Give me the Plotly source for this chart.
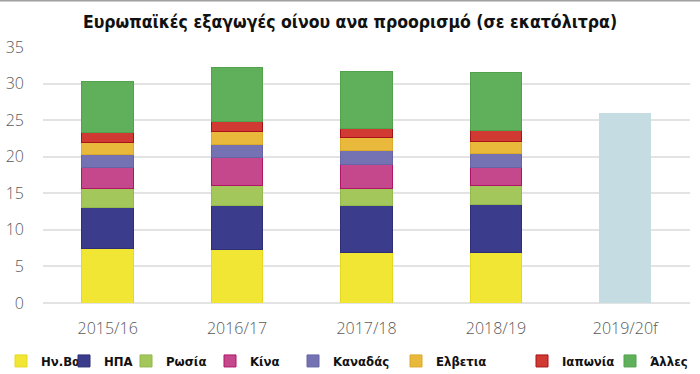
import plotly.graph_objects as go

years = ["2015/16", "2016/17", "2017/18", "2018/19", "2019/20f"]
uk = [7.4, 7.3, 6.9, 6.9, None]
usa = [5.7, 6.0, 6.4, 6.5, None]
russia = [2.5, 2.7, 2.3, 2.6, None]
china = [2.9, 3.9, 3.3, 2.5, None]
canada = [1.8, 1.8, 2.0, 2.0, None]
switzerland = [1.7, 1.8, 1.7, 1.6, None]
japan = [1.3, 1.3, 1.3, 1.5, None]
others = [7.0, 7.4, 7.8, 7.9, None]
forecast = [None, None, None, None, 26.0]

series = [
    ("Ην.Βασ", uk, "#f1e633", "#e6d820"),
    ("ΗΠΑ", usa, "#3b3c8b", "#2e2f75"),
    ("Ρωσία", russia, "#a3c75b", "#93b84b"),
    ("Κίνα", china, "#c4488b", "#b01568"),
    ("Καναδάς", canada, "#7572b3", "#6664a4"),
    ("Ελβετια", switzerland, "#e9b93b", "#dcaa2b"),
    ("Ιαπωνία", japan, "#d13a33", "#a8121a"),
    ("Άλλες", others, "#60b05b", "#52a24d"),
]

# legend square left positions in px
legend_px = [17, 80, 142, 226, 309, 412, 538, 626]
plot_left = 43
plot_w = 647
plot_bottom = 303
plot_h = 256

fig = go.Figure()
for i, (name, vals, col, lcol) in enumerate(series):
    lg = "legend" if i == 0 else f"legend{i+1}"
    fig.add_trace(go.Bar(
        x=years, y=vals, name=name, marker=dict(color=col, line=dict(color=lcol, width=1)),
        legend=lg,
    ))
fig.add_trace(go.Bar(x=years, y=forecast, name="2019/20f", showlegend=False,
                     marker=dict(color="#c5dde2", line=dict(width=0))))

legend_font = dict(family="DejaVu Sans Condensed", size=13, color="#111111", weight="bold")
layout_legends = {}
for i, px in enumerate(legend_px):
    key = "legend" if i == 0 else f"legend{i+1}"
    layout_legends[key] = dict(
        x=(px - 16 - plot_left) / plot_w, xanchor="left",
        y=(plot_bottom - 361) / plot_h, yanchor="middle",
        orientation="h", font=legend_font, bgcolor="rgba(0,0,0,0)",
        itemwidth=30, tracegroupgap=0,
    )

fig.update_layout(
    width=700, height=374,
    margin=dict(l=43, r=10, t=47, b=71, autoexpand=False),
    barmode="stack", bargap=0.6,
    plot_bgcolor="white", paper_bgcolor="white",
    title=dict(text="Ευρωπαϊκές εξαγωγές οίνου ανα προορισμό (σε εκατόλιτρα)",
               x=0.5, xanchor="center", y=1 - 22 / 374, yanchor="middle",
               font=dict(family="DejaVu Sans Condensed", size=17.5, color="#111111", weight="bold")),
    xaxis=dict(showgrid=False, showline=False, ticks="", automargin=False,
               tickfont=dict(family="Open Sans", size=16, color="#595959", weight=300),
               ticklabelstandoff=14),
    yaxis=dict(range=[0, 35], dtick=5, showgrid=True, gridcolor="#e3e3e3", gridwidth=1.5,
               zeroline=True, zerolinecolor="#e3e3e3", zerolinewidth=1.5, showline=False,
               automargin=False,
               tickfont=dict(family="Open Sans", size=16, color="#595959", weight=300),
               ticklabelstandoff=18),
    shapes=[dict(type="line", xref="paper", yref="paper",
                 x0=(0 - plot_left) / plot_w, x1=(700 - plot_left) / plot_w,
                 y0=(plot_bottom - 0.5) / plot_h, y1=(plot_bottom - 0.5) / plot_h,
                 line=dict(color="#a0a0a0", width=2))],
    **layout_legends,
)

fig.write_html("out.html", config={"displayModeBar": False},
               post_script="document.body.style.margin='0';")
